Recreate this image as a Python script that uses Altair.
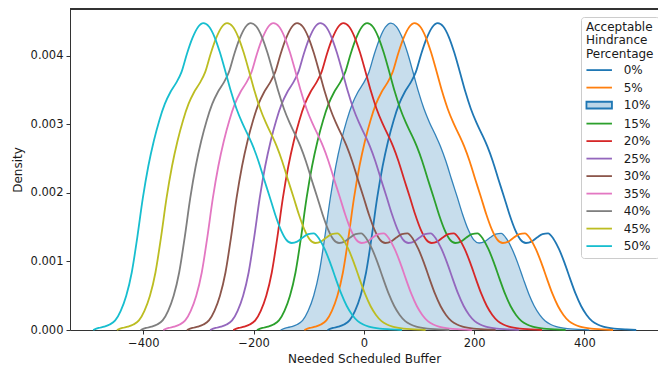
import altair as alt
import pandas as pd

# ---- values ----
percent_labels = ["0%", "5%", "10%", "15%", "20%", "25%", "30%", "35%", "40%", "45%", "50%"]
# position (Needed Scheduled Buffer) of each curve's peak
peak_buffer = [134, 92, 49, 6, -37, -79, -121, -164, -205, -248, -291]
line_colors = ["#1f77b4", "#ff7f0e", "#1f77b4", "#2ca02c", "#d62728", "#9467bd",
               "#8c564b", "#e377c2", "#7f7f7f", "#bcbd22", "#17becf"]
filled_label = "10%"

# density profile (same shape for every curve), offset from the peak
profile_offset = [-200, -190, -180, -170, -160, -150, -140, -130, -120, -110, -100, -90, -80,
                  -70, -60, -50, -40, -30, -20, -10, 0, 10, 20, 30, 40, 50, 60, 70, 80, 90,
                  100, 110, 120, 130, 140, 150, 160, 170, 180, 190, 200, 210, 220, 230, 240,
                  250, 260, 270, 280, 290, 300, 320, 340, 360]
profile_density = [0.0, 0.00003, 0.00005, 0.00008, 0.00014, 0.00028, 0.00050, 0.00084, 0.00135,
                   0.00192, 0.00239, 0.00276, 0.00306, 0.00330, 0.00347, 0.00360, 0.00376,
                   0.00403, 0.00426, 0.00442, 0.00448, 0.00443, 0.00428, 0.00405, 0.00377,
                   0.00348, 0.00323, 0.00303, 0.00286, 0.00268, 0.00246, 0.00220, 0.00195,
                   0.00169, 0.00147, 0.00132, 0.00127, 0.00129, 0.00135, 0.00140, 0.00141,
                   0.00133, 0.00118, 0.00098, 0.00075, 0.00053, 0.00035, 0.00022, 0.00013,
                   0.00008, 0.00005, 0.00002, 0.00001, 0.0]

x_ticks = [-400, -200, 0, 200, 400]
y_ticks = [0.000, 0.001, 0.002, 0.003, 0.004]
x_domain = [-533, 533.5]
y_domain = [0, 0.004686]

# ---- tables ----
rows = []
for lab, pk in zip(percent_labels, peak_buffer):
    for off, dens in zip(profile_offset, profile_density):
        rows.append({"series": lab, "buffer": pk + off, "density": dens})
df = pd.DataFrame(rows)
legend_df = pd.DataFrame({"series": percent_labels, "buffer": peak_buffer,
                          "density": [0.0] * len(percent_labels)})

line_labels = [l for l in percent_labels if l != filled_label]
line_only_colors = [c for l, c in zip(percent_labels, line_colors) if l != filled_label]

line_shape = "M-1.7,0H1.7"
box_shape = "M-1.7,-0.45H1.7V0.45H-1.7Z"
legend_shapes = [box_shape if l == filled_label else line_shape for l in percent_labels]
legend_fills = ["rgba(31,119,180,0.3)" if l == filled_label else "transparent" for l in percent_labels]

font = "DejaVu Sans"
xs = alt.Scale(domain=x_domain, nice=False, zero=False)
ys = alt.Scale(domain=y_domain, nice=False, zero=False)
x_axis = alt.Axis(values=x_ticks, title="Needed Scheduled Buffer", labelFlush=False,
                  tickSize=4, labelPadding=3, titlePadding=5, domainColor="#333",
                  tickColor="#333")
y_axis = alt.Axis(values=y_ticks, format=".3f", title="Density", tickSize=4,
                  labelPadding=3, titlePadding=6, domainColor="#333", tickColor="#333")
X = alt.X("buffer:Q", scale=xs, axis=x_axis)
Y = alt.Y("density:Q", scale=ys, axis=y_axis)

area = alt.Chart(df).transform_filter(
    alt.datum.series == filled_label
).mark_area(
    interpolate="monotone", color="#1f77b4", fillOpacity=0.25,
    line={"color": "#1f77b4", "strokeWidth": 1.3, "strokeOpacity": 0.9}
).encode(x=X, y=Y)

lines = alt.Chart(df).transform_filter(
    alt.datum.series != filled_label
).mark_line(interpolate="monotone", strokeWidth=1.8).encode(
    x=X, y=Y,
    color=alt.Color("series:N", scale=alt.Scale(domain=line_labels, range=line_only_colors),
                    legend=None),
    detail="series:N",
)

top_spine = alt.Chart(legend_df).mark_rule(color="#333", strokeWidth=1).encode(
    y=alt.YDatum(y_domain[1], scale=ys, axis=y_axis),
)

leg = alt.Legend(
    title=["Acceptable", "Hindrance", "Percentage"],
    orient="none", legendX=511, legendY=8, columns=1,
    padding=5, symbolSize=225, symbolStrokeWidth=1.8, symbolOpacity=1,
    symbolFillColor="transparent", symbolOffset=4.7, labelOffset=16, labelAlign="left",
    rowPadding=2.5, titlePadding=1, titleLineHeight=13.3,
    fillColor="white", strokeColor="#cccccc", cornerRadius=3,
)

legend_pts = alt.Chart(legend_df).mark_point(opacity=0).encode(
    x=X, y=Y,
    stroke=alt.Stroke("series:N", scale=alt.Scale(domain=percent_labels, range=line_colors), legend=leg),
    fill=alt.Fill("series:N", scale=alt.Scale(domain=percent_labels, range=legend_fills), legend=leg),
    shape=alt.Shape("series:N", scale=alt.Scale(domain=percent_labels, range=legend_shapes), legend=leg),
)

chart = alt.layer(area, lines, top_spine, legend_pts).properties(
    width=588, height=321,
    autosize=alt.AutoSizeParams(type="none"),
    padding={"left": 70, "top": 9, "right": 0, "bottom": 37},
).configure_view(stroke=None).configure_axis(
    labelFont=font, titleFont=font, labelFontSize=11.5, titleFontSize=12,
    titleFontWeight="normal", labelColor="#1a1a1a", titleColor="#1a1a1a", grid=False,
).configure_legend(
    labelFont=font, titleFont=font, labelFontSize=12, titleFontSize=12,
    titleFontWeight="normal", labelColor="#1a1a1a", titleColor="#1a1a1a",
    titleAlign="left",
)

chart.save("out.html", embed_options={"renderer": "svg", "actions": False})
